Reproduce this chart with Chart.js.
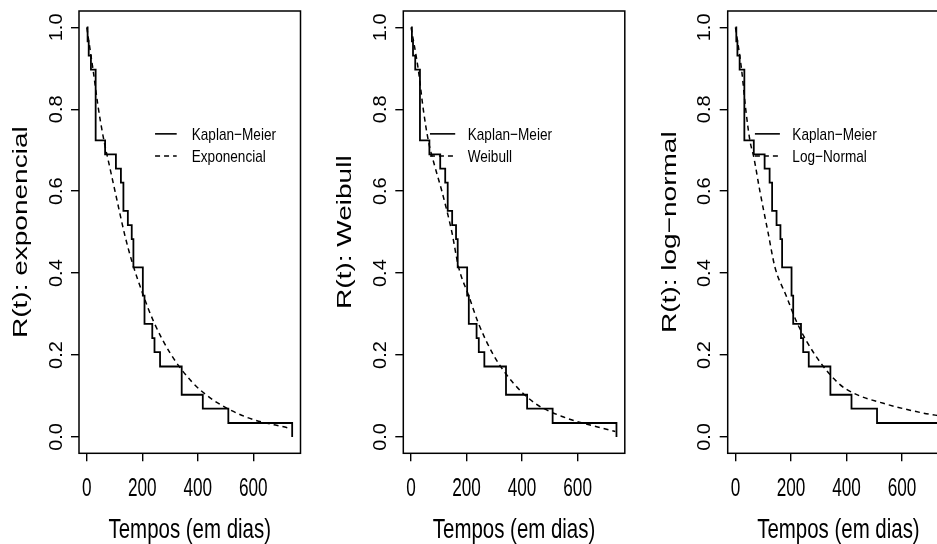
<!DOCTYPE html>
<html>
<head>
<meta charset="utf-8">
<script src="https://cdn.jsdelivr.net/npm/chart.js@4.4.1/dist/chart.umd.min.js"></script>
<style>
  body { margin: 0; width: 937px; height: 544px; overflow: hidden; background: #fff; position: relative; }
  canvas { position: absolute; top: 0; }
</style>
</head>
<body>
<canvas id="c1" width="320" height="544" style="left:0px"></canvas>
<canvas id="c2" width="320" height="544" style="left:320px"></canvas>
<canvas id="c3" width="320" height="544" style="left:640px"></canvas>
<script>
// Kaplan-Meier estimate (same data in all three panels)
const kmDays = [0, 3, 7, 15, 32, 66, 105, 123, 132, 148, 162, 168, 202, 208, 236, 244, 264, 342, 418, 510, 740, 740];
const kmSurv = [1, 0.966, 0.931, 0.897, 0.724, 0.690, 0.655, 0.621, 0.552, 0.517, 0.483, 0.414, 0.345, 0.276, 0.241, 0.207, 0.172, 0.103, 0.069, 0.034, 0.034, 0];

// fitted curves
const expDays = [0, 24, 40, 60, 84, 105, 138, 162, 204, 242, 300, 378, 456, 576, 732];
const expSurv = [1, 0.89, 0.81, 0.73, 0.655, 0.59, 0.49, 0.43, 0.345, 0.28, 0.205, 0.135, 0.09, 0.048, 0.021];

const weiDays = [0, 26, 44, 62, 85, 111, 147, 171, 207, 243, 297, 369, 447, 544, 736];
const weiSurv = [1, 0.897, 0.8, 0.724, 0.662, 0.6, 0.5, 0.415, 0.346, 0.277, 0.2, 0.131, 0.082, 0.05, 0.013];

const lnDays = [0, 22, 37, 52, 66, 88, 118, 142, 182, 223, 287, 371, 425, 533, 678, 740];
const lnSurv = [1, 0.897, 0.8, 0.724, 0.683, 0.6, 0.497, 0.415, 0.346, 0.277, 0.2, 0.131, 0.107, 0.082, 0.058, 0.051];

const xTicks = [0, 200, 400, 600];
const yTicks = [0, 0.2, 0.4, 0.6, 0.8, 1.0];
const xTitle = 'Tempos (em dias)';
const kmLabel = 'Kaplan\u2212Meier';

const FONT = '"Liberation Sans", Arial, Helvetica, sans-serif';

function pts(xs, ys) {
  return xs.map((x, i) => ({ x: x, y: ys[i] }));
}

function hText(ctx, str, x, y, size, sx, align) {
  ctx.save();
  ctx.translate(x, y);
  ctx.scale(sx, 1);
  ctx.font = size + 'px ' + FONT;
  ctx.textAlign = align;
  ctx.textBaseline = 'alphabetic';
  ctx.fillText(str, 0, 0);
  ctx.restore();
}

function vText(ctx, str, x, y, size, sx) {
  ctx.save();
  ctx.translate(x, y);
  ctx.rotate(-Math.PI / 2);
  ctx.scale(1, sx);
  ctx.font = size + 'px ' + FONT;
  ctx.textAlign = 'center';
  ctx.textBaseline = 'alphabetic';
  ctx.fillText(str, 0, 0);
  ctx.restore();
}

// R style box, tick labels, titles and legend
const rPlot = {
  id: 'rPlot',
  afterDraw(chart, args, opts) {
    const ctx = chart.ctx;
    const a = chart.chartArea;
    const xs = chart.scales.x, ys = chart.scales.y;
    ctx.save();
    ctx.strokeStyle = '#000';
    ctx.fillStyle = '#000';
    ctx.lineWidth = 1.5;
    ctx.strokeRect(a.left, a.top, a.right - a.left, a.bottom - a.top);

    xTicks.forEach(v => hText(ctx, String(v), xs.getPixelForValue(v), a.bottom + 42.7, 26, 0.66, 'center'));
    yTicks.forEach(v => vText(ctx, v.toFixed(1), a.left - 17.3, ys.getPixelForValue(v), 20, 0.93));

    hText(ctx, xTitle, (a.left + a.right) / 2, a.bottom + 85, 28, 0.73, 'center');
    vText(ctx, opts.yTitle, a.left - 52, (a.top + a.bottom) / 2, 28, 0.75);

    // legend
    const x0 = xs.getPixelForValue(opts.legX[0]);
    const x1 = xs.getPixelForValue(opts.legX[1]);
    const xt = xs.getPixelForValue(opts.legX[2]);
    const r1 = ys.getPixelForValue(opts.legY[0]);
    const r2 = ys.getPixelForValue(opts.legY[1]);
    ctx.lineWidth = 1.6;
    ctx.beginPath(); ctx.moveTo(x0, r1); ctx.lineTo(x1, r1); ctx.stroke();
    ctx.setLineDash([5, 4]);
    ctx.beginPath(); ctx.moveTo(x0, r2); ctx.lineTo(x1, r2); ctx.stroke();
    ctx.setLineDash([]);
    hText(ctx, kmLabel, xt, r1 + 6, 17, 0.8, 'left');
    hText(ctx, opts.fitLabel, xt, r2 + 6, 17, 0.8, 'left');
    ctx.restore();
  }
};

function makePanel(id, axisW, fitDays, fitSurv, yTitle, fitLabel, legX) {
  const plotW = 221.5;
  new Chart(document.getElementById(id), {
    type: 'line',
    data: {
      datasets: [{
        data: pts(kmDays, kmSurv),
        stepped: 'before',
        borderColor: '#000',
        borderWidth: 1.8,
        pointRadius: 0,
        fill: false
      }, {
        data: pts(fitDays, fitSurv),
        cubicInterpolationMode: 'monotone',
        borderColor: '#000',
        borderWidth: 1.5,
        borderDash: [5, 4],
        pointRadius: 0,
        fill: false
      }]
    },
    options: {
      responsive: false,
      animation: false,
      layout: { padding: { top: 11, left: 0, bottom: 0, right: 320 - axisW - plotW } },
      scales: {
        x: {
          type: 'linear',
          min: -28,
          max: 770,
          afterFit: s => { s.height = 90.7; },
          afterBuildTicks: s => { s.ticks = xTicks.map(v => ({ value: v })); },
          ticks: { display: false },
          grid: { drawOnChartArea: false, drawTicks: true, tickLength: 8, color: '#000', lineWidth: 1.4 },
          border: { display: false }
        },
        y: {
          type: 'linear',
          min: -0.04,
          max: 1.04,
          afterFit: s => { s.width = axisW; },
          afterBuildTicks: s => { s.ticks = yTicks.map(v => ({ value: v })); },
          ticks: { display: false },
          grid: { drawOnChartArea: false, drawTicks: true, tickLength: 8, color: '#000', lineWidth: 1.4 },
          border: { display: false }
        }
      },
      plugins: {
        legend: { display: false },
        tooltip: { enabled: false },
        rPlot: { yTitle: yTitle, fitLabel: fitLabel, legX: legX, legY: [0.74, 0.686] }
      }
    },
    plugins: [rPlot]
  });
}

makePanel('c1', 79, expDays, expSurv, 'R(t): exponencial', 'Exponencial', [246, 324, 378]);
makePanel('c2', 83.3, weiDays, weiSurv, 'R(t): Weibull', 'Weibull', [68, 159, 204]);
makePanel('c3', 87.7, lnDays, lnSurv, 'R(t): log\u2212normal', 'Log\u2212Normal', [70, 160, 205]);
</script>
</body>
</html>
